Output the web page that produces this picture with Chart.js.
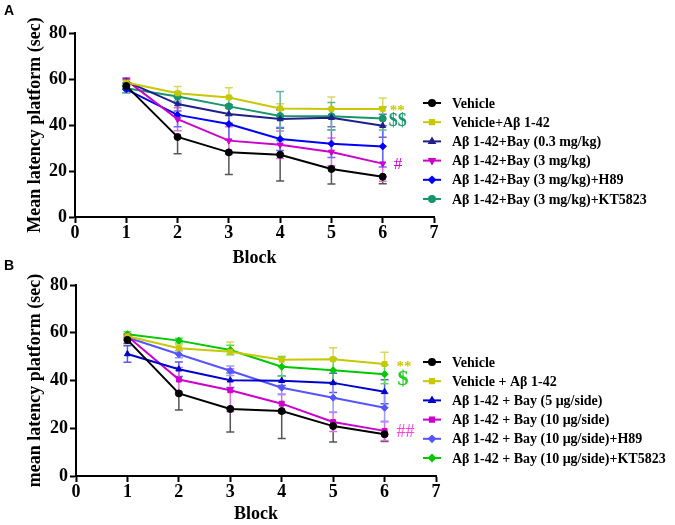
<!DOCTYPE html>
<html>
<head>
<meta charset="utf-8">
<script src="https://cdn.jsdelivr.net/npm/chart.js@4"></script>
<style>
  body { margin: 0; background: #fff; width: 675px; height: 525px; position: relative; overflow: hidden; }
  canvas { position: absolute; left: 0; }
  #grafA { top: 0; }
  #grafB { top: 255px; }
  .panel { position: absolute; left: 4px; font: bold 14px 'Liberation Sans', Arial, sans-serif; color: #000; }
</style>
</head>
<body>
<canvas id="grafA" width="675" height="270"></canvas>
<canvas id="grafB" width="675" height="270"></canvas>
<div class="panel" style="top:2px">A</div>
<div class="panel" style="top:257px">B</div>
<script>
// Bloques (eje x)
const bloques = [1, 2, 3, 4, 5, 6];

// Panel A - etiquetas
const etiquetasA = [
    'Vehicle',
    'Vehicle+Aβ 1-42',
    'Aβ 1-42+Bay (0.3 mg/kg)',
    'Aβ 1-42+Bay (3 mg/kg)',
    'Aβ 1-42+Bay (3 mg/kg)+H89',
    'Aβ 1-42+Bay (3 mg/kg)+KT5823'
];
// Panel A - medias
const vehiculoA = [57.0, 34.8, 28.1, 27.1, 20.9, 17.5];
const abA       = [58.5, 53.8, 52.0, 47.2, 47.0, 47.0];
const bay03A    = [59.0, 49.1, 44.8, 42.6, 43.2, 39.7];
const bay3A     = [59.5, 42.5, 33.2, 31.4, 28.3, 23.2];
const h89A      = [55.5, 44.4, 40.4, 33.9, 31.9, 30.7];
const kt5823A   = [56.0, 52.4, 48.1, 43.9, 43.8, 42.8];
// Panel A - error estandar
const errVehiculoA = [1.5, 7.3, 9.6, 11.4, 6.6, 3.0];
const errAbA       = [1.0, 2.9, 4.2, 2.0, 5.2, 4.7];
const errBay03A    = [1.0, 3.0, 4.0, 4.0, 4.0, 5.0];
const errBay3A     = [1.0, 5.0, 6.0, 6.0, 6.0, 7.7];
const errH89A      = [1.5, 5.2, 7.0, 5.0, 6.0, 9.0];
const errKt5823A   = [2.0, 2.0, 4.0, 10.7, 6.0, 5.0];

// Panel B - etiquetas
const etiquetasB = [
    'Vehicle',
    'Vehicle + Aβ 1-42',
    'Aβ 1-42 + Bay (5 μg/side)',
    'Aβ 1-42 + Bay (10 μg/side)',
    'Aβ 1-42 + Bay (10 μg/side)+H89',
    'Aβ 1-42 + Bay (10 μg/side)+KT5823'
];
// Panel B - medias
const vehiculoB = [57.0, 34.6, 28.1, 27.2, 20.9, 17.5];
const abB       = [58.5, 53.5, 52.0, 48.7, 48.9, 46.9];
const bay5B     = [51.1, 44.7, 40.1, 39.9, 39.0, 35.3];
const bay10B    = [58.5, 40.4, 35.9, 30.3, 22.6, 18.9];
const h89B      = [58.0, 51.0, 44.1, 37.0, 32.8, 28.6];
const kt5823B   = [59.4, 56.7, 52.8, 45.8, 44.3, 42.6];
// Panel B - error estandar
const errVehiculoB = [1.5, 7.0, 9.7, 11.5, 6.7, 3.0];
const errAbB       = [1.0, 1.5, 4.1, 1.5, 4.8, 4.9];
const errBay5B     = [3.5, 3.0, 3.0, 2.0, 4.0, 5.0];
const errBay10B    = [1.0, 5.0, 9.0, 4.0, 4.0, 4.0];
const errH89B      = [1.0, 1.5, 2.0, 3.0, 6.0, 6.0];
const errKt5823B   = [1.0, 1.0, 2.0, 4.0, 5.0, 4.0];

// Ticks de los ejes
const ticksX = [0, 1, 2, 3, 4, 5, 6, 7];
const ticksY = [0, 20, 40, 60, 80];

const fuente = "'Liberation Serif', 'Times New Roman', serif";

// Barras de error
const pluginErrores = {
    id: 'errores',
    beforeDatasetsDraw(chart) {
        const ctx = chart.ctx;
        const xs = chart.scales.x;
        const ys = chart.scales.y;
        chart.data.datasets.forEach(ds => {
            ctx.save();
            ctx.strokeStyle = ds.colorError;
            ctx.lineWidth = 1.5;
            ds.data.forEach((p, i) => {
                const e = ds.errores[i];
                const x = xs.getPixelForValue(p.x);
                const yArriba = ys.getPixelForValue(ds.dir === 'down' ? p.y : p.y + e);
                const yAbajo = ys.getPixelForValue(ds.dir === 'up' ? p.y : p.y - e);
                ctx.beginPath();
                ctx.moveTo(x, yArriba);
                ctx.lineTo(x, yAbajo);
                if (ds.dir !== 'down') { ctx.moveTo(x - 4, yArriba); ctx.lineTo(x + 4, yArriba); }
                if (ds.dir !== 'up') { ctx.moveTo(x - 4, yAbajo); ctx.lineTo(x + 4, yAbajo); }
                ctx.stroke();
            });
            ctx.restore();
        });
    }
};

// Leyenda dibujada a mano (linea + marcador + texto)
const pluginLeyenda = {
    id: 'leyenda',
    afterDraw(chart, args, opts) {
        const ctx = chart.ctx;
        ctx.save();
        chart.data.datasets.forEach((ds, i) => {
            const y = opts.y + i * opts.paso;
            ctx.strokeStyle = ds.borderColor;
            ctx.lineWidth = 2;
            ctx.beginPath();
            ctx.moveTo(opts.x, y);
            ctx.lineTo(opts.x + 18, y);
            ctx.stroke();
            ctx.fillStyle = ds.borderColor;
            Chart.helpers.drawPoint(ctx, {
                pointStyle: ds.pointStyle,
                radius: 3,
                rotation: ds.pointRotation || 0,
                borderWidth: 1
            }, opts.x + 9, y);
            ctx.fillStyle = '#000';
            ctx.font = 'bold 14px ' + fuente;
            ctx.textBaseline = 'middle';
            ctx.textAlign = 'left';
            ctx.fillText(ds.label, opts.x + 29, y + 1);
        });
        ctx.restore();
    }
};

// Asteriscos / simbolos de significancia
const pluginMarcas = {
    id: 'marcas',
    afterDatasetsDraw(chart, args, opts) {
        const ctx = chart.ctx;
        ctx.save();
        (opts.lista || []).forEach(m => {
            const ds = chart.data.datasets[m.serie];
            const ult = ds.data[ds.data.length - 1];
            const x = chart.scales.x.getPixelForValue(ult.x) + m.dx;
            const y = chart.scales.y.getPixelForValue(ult.y) + m.dy;
            ctx.fillStyle = m.color;
            ctx.font = m.font;
            ctx.textBaseline = 'middle';
            ctx.textAlign = 'left';
            ctx.fillText(m.texto, x, y);
        });
        ctx.restore();
    }
};

function crearSerie(etiqueta, valores, errores, color, colorError, estilo, rotacion, dir) {
    return {
        label: etiqueta,
        data: bloques.map((b, i) => ({ x: b, y: valores[i] })),
        errores: errores,
        dir: dir,
        colorError: colorError,
        borderColor: color,
        backgroundColor: color,
        borderWidth: 2,
        pointStyle: estilo,
        pointRotation: rotacion,
        pointRadius: 3.5,
        pointBorderWidth: 1,
        tension: 0
    };
}

function crearGrafico(idCanvas, series, tituloY, caja, leyenda, marcas) {
    const ctx = document.getElementById(idCanvas).getContext('2d');
    return new Chart(ctx, {
        type: 'line',
        data: { datasets: series },
        options: {
            responsive: false,
            animation: false,
            layout: { padding: { top: caja.top, left: 0, right: caja.right, bottom: 0 } },
            plugins: {
                legend: { display: false },
                tooltip: { enabled: false },
                leyenda: leyenda,
                marcas: { lista: marcas }
            },
            scales: {
                x: {
                    type: 'linear',
                    min: 0,
                    max: 7,
                    afterBuildTicks: s => { s.ticks = ticksX.map(v => ({ value: v })); },
                    afterFit: s => { s.height = caja.altoX; },
                    border: { display: true, color: '#000', width: 2 },
                    grid: { drawOnChartArea: false, color: '#000', tickLength: 6, tickWidth: 2 },
                    ticks: { color: '#000', padding: 0, font: { family: fuente, weight: 'bold', size: 18 } },
                    title: {
                        display: true, text: 'Block', color: '#000',
                        padding: { top: 0, bottom: caja.padTitulo },
                        font: { family: fuente, weight: 'bold', size: 18 }
                    }
                },
                y: {
                    min: 0,
                    max: 80,
                    afterBuildTicks: s => { s.ticks = ticksY.map(v => ({ value: v })); },
                    afterFit: s => { s.width = caja.anchoY; },
                    border: { display: true, color: '#000', width: 2 },
                    grid: { drawOnChartArea: false, color: '#000', tickLength: 6, tickWidth: 2 },
                    ticks: { color: '#000', padding: 2, font: { family: fuente, weight: 'bold', size: 18 } },
                    title: {
                        display: true, text: tituloY, color: '#000',
                        padding: { top: 25, bottom: 0 },
                        font: { family: fuente, weight: 'bold', size: 18 }
                    }
                }
            }
        },
        plugins: [pluginErrores, pluginMarcas, pluginLeyenda]
    });
}

// Panel A
const seriesA = [
    crearSerie(etiquetasA[0], vehiculoA, errVehiculoA, '#000000', '#555555', 'circle', 0, 'down'),
    crearSerie(etiquetasA[1], abA, errAbA, '#c8c800', '#d8d860', 'rect', 0, 'up'),
    crearSerie(etiquetasA[2], bay03A, errBay03A, '#1f1f8c', '#6a6ab0', 'triangle', 0, 'both'),
    crearSerie(etiquetasA[3], bay3A, errBay3A, '#cc00cc', '#e070e0', 'triangle', 180, 'both'),
    crearSerie(etiquetasA[4], h89A, errH89A, '#0000ff', '#6a6aff', 'rectRot', 0, 'both'),
    crearSerie(etiquetasA[5], kt5823A, errKt5823A, '#16966a', '#60b898', 'circle', 0, 'both')
];
crearGrafico('grafA', seriesA, 'Mean latency platform (sec)',
    { top: 33, right: 241, altoX: 53, anchoY: 75, padTitulo: 1 },
    { x: 423, y: 103, paso: 19.2 },
    [
        { serie: 1, texto: '**', color: '#c8c800', font: 'bold 15px ' + fuente, dx: 7, dy: 2 },
        { serie: 5, texto: '$$', color: '#16966a', font: 'bold 18px ' + fuente, dx: 6, dy: 3 },
        { serie: 3, texto: '#', color: '#cc00cc', font: '17px ' + fuente, dx: 11, dy: 1 }
    ]);

// Panel B
const seriesB = [
    crearSerie(etiquetasB[0], vehiculoB, errVehiculoB, '#000000', '#555555', 'circle', 0, 'down'),
    crearSerie(etiquetasB[1], abB, errAbB, '#c8c800', '#d8d860', 'rect', 0, 'up'),
    crearSerie(etiquetasB[2], bay5B, errBay5B, '#0000cc', '#5a5ae0', 'triangle', 0, 'both'),
    crearSerie(etiquetasB[3], bay10B, errBay10B, '#cc00cc', '#e070e0', 'rect', 0, 'both'),
    crearSerie(etiquetasB[4], h89B, errH89B, '#5555ff', '#9a9aff', 'rectRot', 0, 'both'),
    crearSerie(etiquetasB[5], kt5823B, errKt5823B, '#00c800', '#60d860', 'rectRot', 0, 'both')
];
crearGrafico('grafB', seriesB, 'mean latency platform (sec)',
    { top: 30, right: 239, altoX: 49, anchoY: 76, padTitulo: 0 },
    { x: 423, y: 107, paso: 19.2 },
    [
        { serie: 1, texto: '**', color: '#c8c800', font: 'bold 15px ' + fuente, dx: 12, dy: 3 },
        { serie: 5, texto: '$', color: '#22cc22', font: 'bold 22px ' + fuente, dx: 13, dy: 5 },
        { serie: 3, texto: '##', color: '#ff44dd', font: '18px ' + fuente, dx: 12, dy: 1 }
    ]);
</script>
</body>
</html>
